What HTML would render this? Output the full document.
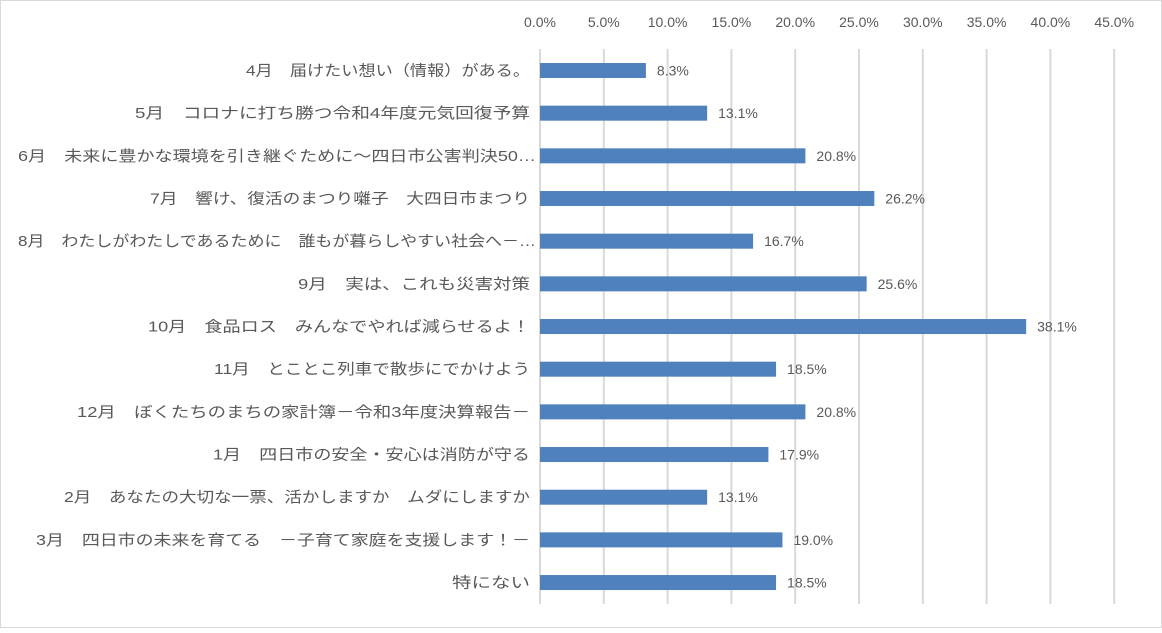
<!DOCTYPE html><html><head><meta charset="utf-8"><style>
body{margin:0;background:#fff}
svg text{font-family:"Liberation Sans","Noto Sans CJK JP",sans-serif;fill:#595959}
</style></head><body>
<svg width="1162" height="628" xmlns="http://www.w3.org/2000/svg">
<rect x="0.5" y="0.5" width="1161" height="627" fill="#fff" stroke="#d9d9d9"/>
<g id="g"></g>
</svg>
<script>
const labels=["4月　届けたい想い（情報）がある。","5月　コロナに打ち勝つ令和4年度元気回復予算","6月　未来に豊かな環境を引き継ぐために～四日市公害判決50…","7月　響け、復活のまつり囃子　大四日市まつり","8月　わたしがわたしであるために　誰もが暮らしやすい社会へ－…","9月　実は、これも災害対策","10月　食品ロス　みんなでやれば減らせるよ！","11月　とことこ列車で散歩にでかけよう","12月　ぼくたちのまちの家計簿－令和3年度決算報告－","1月　四日市の安全・安心は消防が守る","2月　あなたの大切な一票、活かしますか　ムダにしますか","3月　四日市の未来を育てる　－子育て家庭を支援します！－","特にない"];
const st=[246,135,18,150,18,298,148,214,77,213,64,36,452];
const v=[8.3,13.1,20.8,26.2,16.7,25.6,38.1,18.5,20.8,17.9,13.1,19.0,18.5];
let s="";const x0=540,k=12.76;
for(let i=0;i<=9;i++){const x=x0+i*63.8;s+=`<line x1="${x}" y1="49" x2="${x}" y2="604" stroke="#d9d9d9" stroke-width="2"/><text x="${x}" y="27" font-size="14" text-anchor="middle">${(i*5).toFixed(1)}%</text>`;}
v.forEach((d,i)=>{const c=70.5+i*42.67,w=d*k;s+=`<rect x="${x0}" y="${c-7.5}" width="${w}" height="15" fill="#4f81bd"/><text x="${x0+w+11}" y="${c+5}" font-size="14">${d.toFixed(1)}%</text><text x="${st[i]}" y="${c+5}" font-size="15" textLength="${(i==2||i==4?536:530)-st[i]}" lengthAdjust="spacingAndGlyphs">${labels[i]}</text>`;});
document.getElementById("g").innerHTML=s;
</script>
</body></html>
